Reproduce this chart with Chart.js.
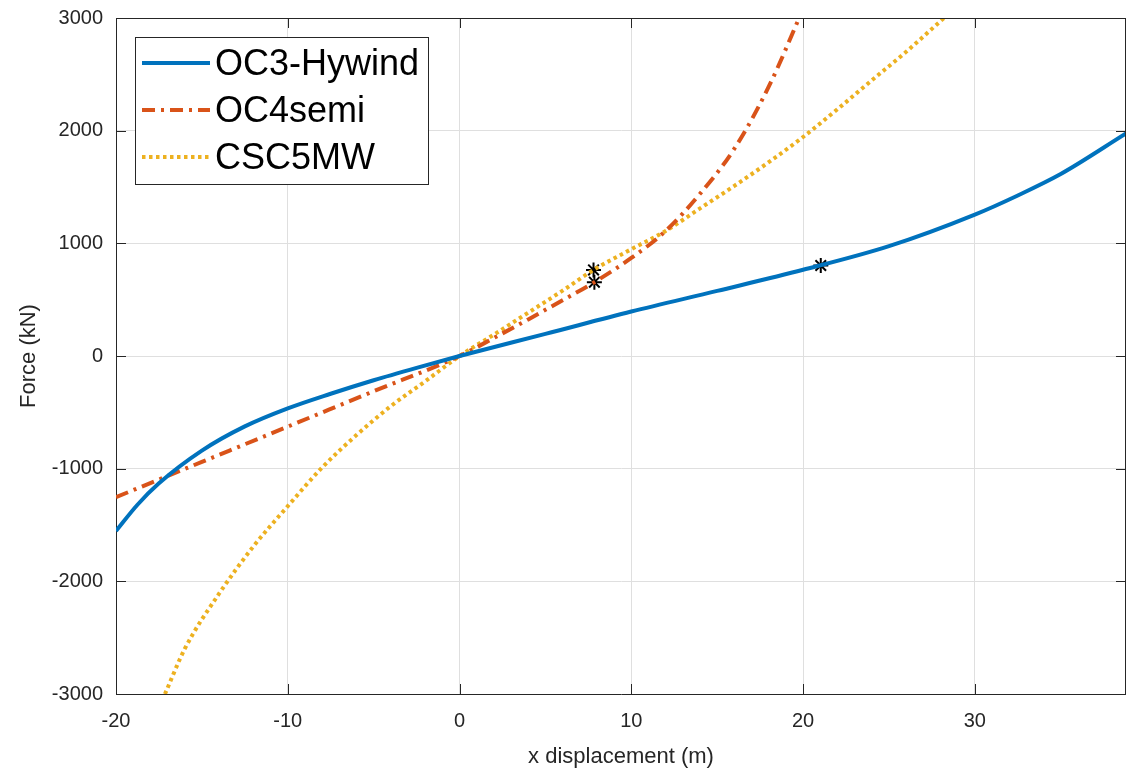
<!DOCTYPE html>
<html>
<head>
<meta charset="utf-8">
<script src="https://cdn.jsdelivr.net/npm/chart.js@4"></script>
<style>
  html, body { margin: 0; padding: 0; background: #fff; }
  canvas { display: block; }
</style>
</head>
<body>
<canvas id="force" width="1126" height="773"></canvas>
<script>
// OC3-Hywind mooring restoring force
const oc3X = [-20, -18.75, -17.5, -15, -12.5, -10, -7.5, -5, -2.5, 0, 5, 10, 15, 20, 25, 30, 32.5, 35, 38.8];
const oc3F = [-1553, -1320, -1130, -840, -625, -465, -335, -215, -105, 0, 196, 395, 578, 765, 975, 1255, 1425, 1615, 1975];

// OC4semi
const oc4X = [-20, -15, -10, -5, 0, 2, 4, 6, 7.85, 10, 12, 14, 16, 18, 20];
const oc4F = [-1253, -940, -627, -313, 0, 160, 325, 495, 655, 870, 1110, 1440, 1840, 2390, 3080];

// CSC5MW
const cscX = [-17.15, -16, -14, -12, -10, -8, -6, -4, -2, 0, 2, 4, 6, 7.8, 10, 12, 14, 16, 18, 20, 22, 24, 26, 28.2];
const cscF = [-3000, -2600, -2110, -1690, -1333, -990, -702, -445, -225, 0, 190, 385, 580, 764, 948, 1110, 1310, 1510, 1720, 1944, 2190, 2447, 2700, 3000];

// marked operating points
const starX = [21.03, 7.85, 7.8];
const starF = [803, 655, 764];

const xTicks = [-20, -10, 0, 10, 20, 30];
const yTicks = [-3000, -2000, -1000, 0, 1000, 2000, 3000];

const font = "'Liberation Sans', Arial, Helvetica, sans-serif";
const ink = '#262626';

const pts = (xs, ys) => xs.map((v, i) => ({ x: v, y: ys[i] }));

const noPad = s => {
  s.paddingTop = 0; s.paddingBottom = 0; s.paddingLeft = 0; s.paddingRight = 0;
};

// MATLAB-like box: top/right border, inward ticks, legend inside the axes
const matlabBox = {
  id: 'matlabBox',
  afterDraw(chart) {
    const { ctx, chartArea: a, scales: { x, y } } = chart;
    ctx.save();
    ctx.strokeStyle = ink;
    ctx.lineWidth = 1;
    ctx.setLineDash([]);
    ctx.beginPath();
    ctx.moveTo(a.left, a.top + 0.5);
    ctx.lineTo(a.right, a.top + 0.5);
    ctx.moveTo(a.right - 0.5, a.top);
    ctx.lineTo(a.right - 0.5, a.bottom);
    x.ticks.forEach(t => {
      const px = Math.round(x.getPixelForValue(t.value)) + 0.5;
      ctx.moveTo(px, a.bottom); ctx.lineTo(px, a.bottom - 10);
      ctx.moveTo(px, a.top); ctx.lineTo(px, a.top + 10);
    });
    y.ticks.forEach(t => {
      const py = Math.round(y.getPixelForValue(t.value)) + 0.5;
      ctx.moveTo(a.left, py); ctx.lineTo(a.left + 10, py);
      ctx.moveTo(a.right, py); ctx.lineTo(a.right - 10, py);
    });
    ctx.stroke();

    // legend
    ctx.fillStyle = '#fff';
    ctx.fillRect(135, 37, 293, 147);
    ctx.strokeStyle = ink;
    ctx.strokeRect(135.5, 37.5, 293, 147);
    chart.data.datasets.slice(0, 3).forEach((ds, i) => {
      const ly = 63 + i * 47;
      ctx.strokeStyle = ds.borderColor;
      ctx.lineWidth = ds.borderWidth;
      ctx.setLineDash(ds.borderDash || []);
      ctx.beginPath();
      ctx.moveTo(142, ly);
      ctx.lineTo(210, ly);
      ctx.stroke();
      ctx.setLineDash([]);
      ctx.fillStyle = '#000';
      ctx.font = '36px ' + font;
      ctx.textBaseline = 'middle';
      ctx.fillText(ds.label, 215, ly + 2);
    });
    ctx.restore();
  }
};

new Chart(document.getElementById('force'), {
  type: 'line',
  data: {
    datasets: [
      {
        label: 'OC3-Hywind',
        data: pts(oc3X, oc3F),
        borderColor: '#0072BD',
        borderWidth: 4,
        pointRadius: 0,
        cubicInterpolationMode: 'monotone'
      },
      {
        label: 'OC4semi',
        data: pts(oc4X, oc4F),
        borderColor: '#D95319',
        borderWidth: 4,
        borderDash: [13, 6, 3, 6],
        pointRadius: 0,
        cubicInterpolationMode: 'monotone'
      },
      {
        label: 'CSC5MW',
        data: pts(cscX, cscF),
        borderColor: '#EDB120',
        borderWidth: 4,
        borderDash: [3.5, 3.5],
        pointRadius: 0,
        cubicInterpolationMode: 'monotone'
      },
      {
        label: 'points',
        data: pts(starX, starF),
        showLine: false,
        pointStyle: 'star',
        pointRadius: 7.5,
        borderColor: '#000',
        backgroundColor: '#000',
        pointBorderWidth: 2
      }
    ]
  },
  options: {
    responsive: false,
    animation: false,
    devicePixelRatio: 1,
    layout: { autoPadding: false, padding: { top: 18, right: 0, left: 0, bottom: 0 } },
    plugins: {
      legend: { display: false },
      tooltip: { enabled: false }
    },
    scales: {
      x: {
        type: 'linear',
        min: -20,
        max: 38.8,
        afterBuildTicks: s => { s.ticks = xTicks.map(v => ({ value: v })); },
        afterFit: s => { s.height = 79; noPad(s); },
        ticks: { color: ink, font: { family: font, size: 20 }, padding: 15, callback: v => String(v) },
        grid: { color: '#dfdfdf', tickLength: 0 },
        border: { color: ink, width: 1 },
        title: { display: true, text: 'x displacement (m)', color: ink, font: { family: font, size: 22 }, padding: { bottom: 3 } }
      },
      y: {
        type: 'linear',
        min: -3000,
        max: 3000,
        afterBuildTicks: s => { s.ticks = yTicks.map(v => ({ value: v })); },
        afterFit: s => { s.width = 116; noPad(s); },
        ticks: { color: ink, font: { family: font, size: 20 }, padding: 13, callback: v => String(v) },
        grid: { color: '#dfdfdf', tickLength: 0 },
        border: { color: ink, width: 1 },
        title: { display: true, text: 'Force (kN)', color: ink, font: { family: font, size: 22 }, padding: { top: 16 } }
      }
    }
  },
  plugins: [matlabBox]
});
</script>
</body>
</html>
